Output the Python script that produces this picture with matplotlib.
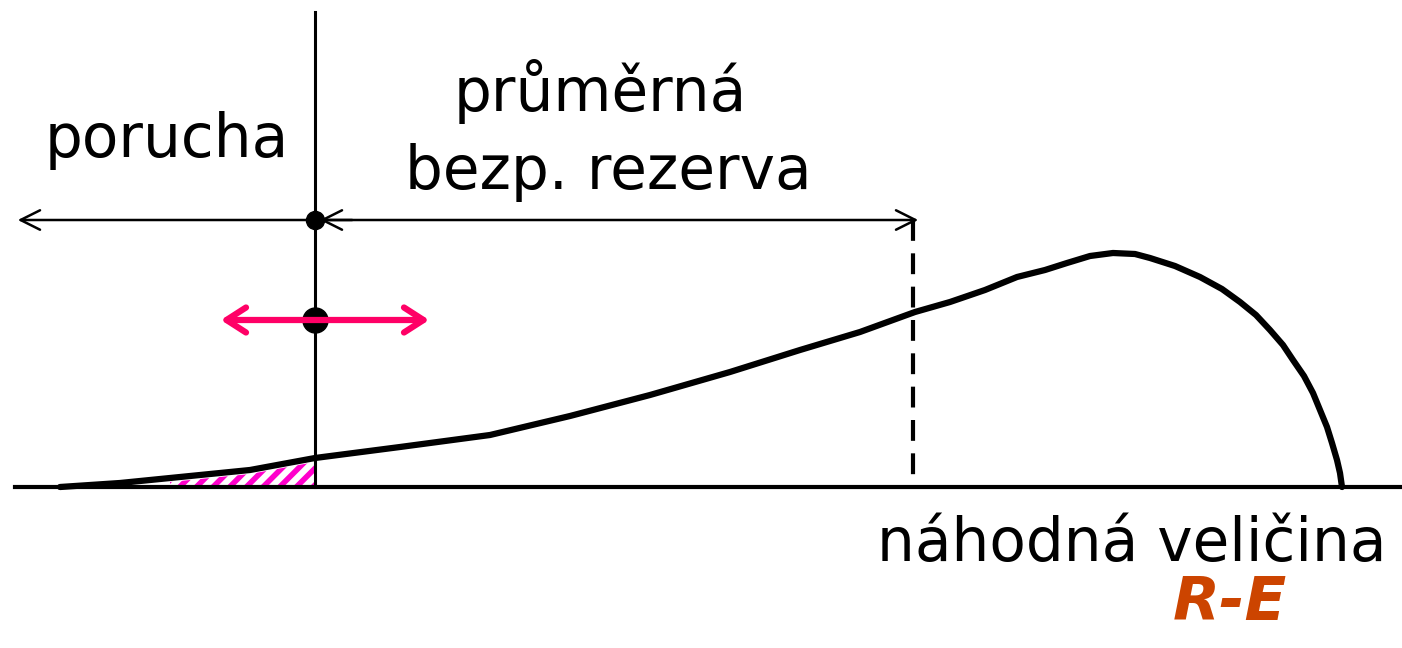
import matplotlib.pyplot as plt
import numpy as np

plt.rcParams["hatch.linewidth"] = 4

# curve of the distribution, in picture coordinates (x right, y down)
curve_x = [60, 120, 170, 250, 315, 400, 490, 570, 650, 730, 800, 860, 915, 950,
           985, 1017, 1045, 1067, 1090, 1113, 1135, 1150, 1175, 1200, 1222, 1240,
           1256, 1270, 1283, 1293, 1304, 1313, 1320, 1327, 1332, 1337, 1340, 1342]
curve_y = [487, 483, 478, 470, 458, 447, 435, 416, 395, 372, 350, 332, 312, 302,
           290, 277, 270, 263, 256, 253, 254, 258, 266, 277, 289, 302,
           315, 330, 345, 360, 376, 393, 410, 427, 443, 460, 473, 487]

axis_y = 487
limit_x = 315
mean_x = 913
top_arrow_y = 220
dot_y = 320
hatch_from = 170

labels = {
    "porucha": (167, 140),
    "průměrná": (600, 92),
    "bezp. rezerva": (608, 172),
    "náhodná veličina": (1132, 545),
}

fig = plt.figure(figsize=(14.02, 6.48), dpi=100)
ax = fig.add_axes([0, 0, 1, 1])
ax.set_xlim(0, 1402)
ax.set_ylim(648, 0)
ax.axis("off")

# base axis and vertical limit line
ax.plot([15, 1402], [axis_y, axis_y], color="black", lw=3)
ax.plot([limit_x, limit_x], [12, axis_y], color="black", lw=2.2)

# dashed line at the mean
ax.plot([mean_x, mean_x], [top_arrow_y, axis_y], color="black", lw=3, ls=(0, (5, 3)))

# hatched failure region
xs = np.array(curve_x, dtype=float)
ys = np.array(curve_y, dtype=float)
mask = (xs >= hatch_from) & (xs <= limit_x)
ax.fill_between(xs[mask], ys[mask] + 4, axis_y - 2, facecolor="none",
                edgecolor="#ff00cc", hatch="//", lw=0)

# the curve
ax.plot(curve_x, curve_y, color="black", lw=4.5, solid_capstyle="round",
        solid_joinstyle="round")

# top arrows
arr = dict(arrowstyle="->,head_length=1.4,head_width=0.7", color="black", lw=1.8)
ax.annotate("", xy=(15, top_arrow_y), xytext=(limit_x, top_arrow_y), arrowprops=arr)
ax.annotate("", xy=(mean_x + 8, top_arrow_y), xytext=(limit_x, top_arrow_y), arrowprops=arr)
ax.annotate("", xy=(limit_x + 2, top_arrow_y), xytext=(limit_x + 40, top_arrow_y), arrowprops=arr)

# magenta double arrow
ax.annotate("", xy=(218, dot_y), xytext=(432, dot_y),
            arrowprops=dict(arrowstyle="<->,head_length=1.4,head_width=0.9",
                            color="#ff0066", lw=4.5))

ax.plot([limit_x], [top_arrow_y], "o", color="black", ms=13)
ax.plot([limit_x], [dot_y], "o", color="black", ms=18)

for txt, (x, y) in labels.items():
    ax.text(x, y, txt, fontsize=43, ha="center", va="center", family="DejaVu Sans")

ax.text(1230, 603, "R-E", fontsize=44, ha="center", va="center", color="#cc4400",
        fontweight="bold", fontstyle="italic", family="DejaVu Sans")

fig.savefig("out.png", dpi=100)
